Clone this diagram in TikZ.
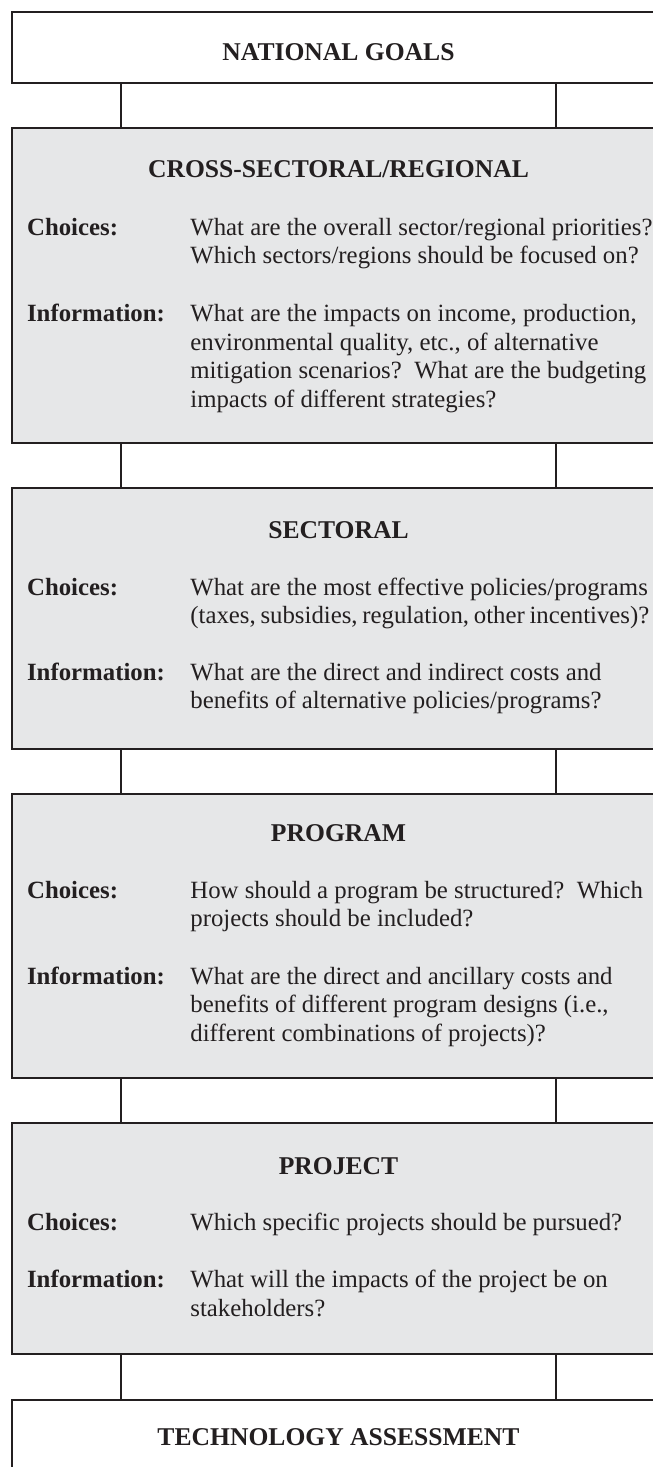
\documentclass[tikz,border=0pt]{standalone}
\usepackage{fontspec}
\setmainfont{Liberation Serif}
\definecolor{boxgray}{HTML}{E6E7E8}
\definecolor{ink}{HTML}{231F20}
\begin{document}
\begin{tikzpicture}[x=0.5pt,y=-0.5pt,
  box/.style={draw=ink, line width=1pt, minimum width=326.5pt, inner sep=0pt, outer sep=0pt},
  graybox/.style={box, fill=boxgray},
  whitebox/.style={box, fill=white},
  conn/.style={draw=ink, line width=1pt},
  title/.style={font=\fontsize{12.8}{15}\selectfont\bfseries, text=ink, inner sep=0pt, anchor=base},
  lbl/.style={font=\fontsize{12.4}{14.25}\selectfont\bfseries, text=ink, inner sep=0pt, anchor=base west},
  body/.style={font=\fontsize{12.4}{14.25}\selectfont, text=ink, inner sep=0pt, anchor=base west, align=left},
]
\useasboundingbox[fill=white] (0,0) rectangle (653,1467);
\begin{scope}
\clip (0,0) rectangle (653,1467);
% boxes
\node[whitebox, minimum height=35.5pt]   (b1) at (338.5,47.8) {};
\node[graybox,  minimum height=157.5pt]  (b2) at (338.5,285.8) {};
\node[graybox,  minimum height=130.5pt]  (b3) at (338.5,618.8) {};
\node[graybox,  minimum height=142pt]    (b4) at (338.5,936) {};
\node[graybox,  minimum height=115.65pt] (b5) at (338.5,1238.65) {};
\node[whitebox, minimum height=45.15pt]  (b6) at (338.5,1444.85) {};
% connectors
\foreach \u/\v in {b1/b2,b2/b3,b3/b4,b4/b5,b5/b6}{
  \draw[conn] ([xshift=-109pt]\u.south) -- ([xshift=-109pt]\v.north);
  \draw[conn] ([xshift=108.6pt]\u.south) -- ([xshift=108.6pt]\v.north);
}
\end{scope}
% texts (multi-line nodes are placed by the baseline of their last line)
\node[title] (t1) at (338.5,60) {NATIONAL GOALS};

\node[title] (t2) at (338.5,177.3) {CROSS-SECTORAL/REGIONAL};
\node[lbl] (c2) at (26.7,235) {Choices:};
\node[body] (cq2) at (190,263.5) {What are the overall sector/regional priorities?\\Which sectors/regions should be focused on?};
\node[lbl] (i2) at (26.7,321.5) {Information:};
\node[body] (iq2) at (190,407) {What are the impacts on income, production,\\environmental quality, etc., of alternative\\mitigation scenarios?\ \ What are the budgeting\\impacts of different strategies?};

\node[title] (t3) at (338.5,538.3) {SECTORAL};
\node[lbl] (c3) at (26.7,595) {Choices:};
\node[body] (cq3) at (190,623.5) {What are the most effective policies/programs\\{\spaceskip=0.19em (taxes, subsidies, regulation, other incentives)?}};
\node[lbl] (i3) at (26.7,680) {Information:};
\node[body] (iq3) at (190,708.5) {What are the direct and indirect costs and\\benefits of alternative policies/programs?};

\node[title] (t4) at (338.5,841.7) {PROGRAM};
\node[lbl] (c4) at (26.7,898.3) {Choices:};
\node[body] (cq4) at (190,926.8) {How should a program be structured?\ \ Which\\projects should be included?};
\node[lbl] (i4) at (26.7,984) {Information:};
\node[body] (iq4) at (190,1041) {What are the direct and ancillary costs and\\benefits of different program designs (i.e.,\\different combinations of projects)?};

\node[title] (t5) at (338.5,1174.3) {PROJECT};
\node[lbl] (c5) at (26.7,1230.7) {Choices:};
\node[body] (cq5) at (190,1230.7) {Which specific projects should be pursued?};
\node[lbl] (i5) at (26.7,1287.7) {Information:};
\node[body] (iq5) at (190,1316.2) {What will the impacts of the project be on\\stakeholders?};

\node[title] (t6) at (338.5,1445) {TECHNOLOGY ASSESSMENT};
\end{tikzpicture}
\end{document}
